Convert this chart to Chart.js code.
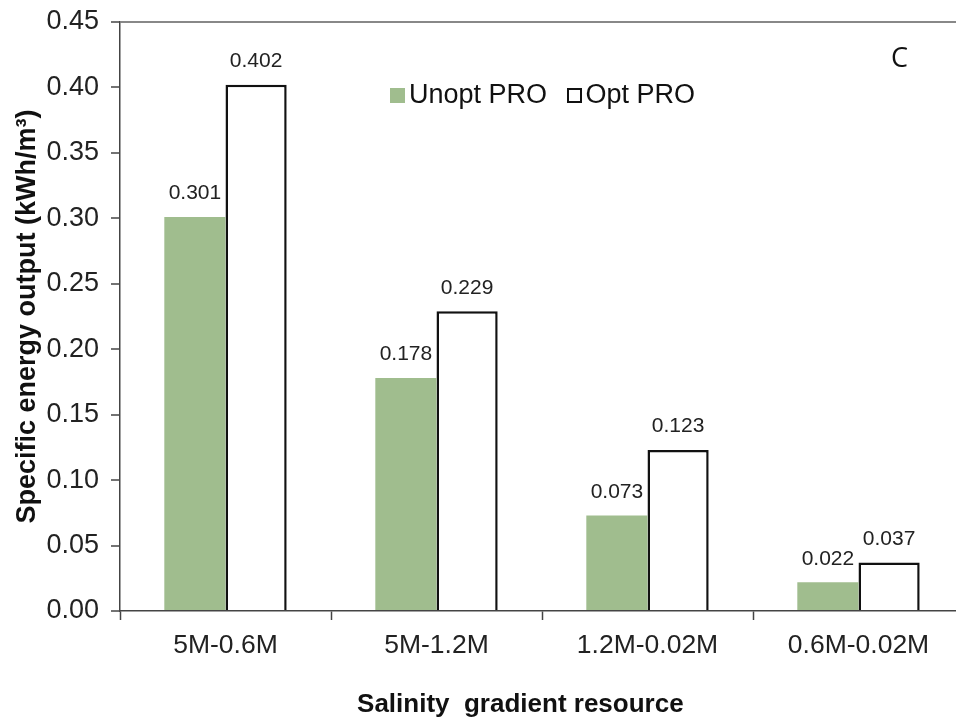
<!DOCTYPE html>
<html lang="en">
<head>
  <meta charset="UTF-8">
  <title>Specific energy output</title>
  <script src="https://cdn.jsdelivr.net/npm/chart.js"></script>
  <style>
    html, body { margin: 0; padding: 0; background: #fff; overflow: hidden; }
    #wrap { position: relative; width: 956px; height: 718px; overflow: hidden; }
    #wrap canvas { position: absolute; left: 0; top: 0; }
    .legend { position: absolute; top: 79px; left: 390px; font: 27px "Liberation Sans", Arial, sans-serif; color: #111; white-space: nowrap; }
    .legend span.box { display: inline-block; width: 15px; height: 15px; vertical-align: 0px; margin-right: 4px; box-sizing: border-box; }
    .panel { position: absolute; left: 891px; top: 38px; font: 27px "Open Sans", sans-serif; color: #111; }
  </style>
</head>
<body>
  <div id="wrap">
    <canvas id="chart" width="966" height="718"></canvas>
    <div class="legend">
      <span class="box" style="background:#a0bd8e"></span>Unopt PRO
      <span class="box" style="border:2px solid #111;margin-left:12px"></span>Opt PRO
    </div>
    <div class="panel">C</div>
  </div>

  <script>
    const categories = ['5M-0.6M', '5M-1.2M', '1.2M-0.02M', '0.6M-0.02M'];
    const unoptPRO = [0.301, 0.178, 0.073, 0.022];
    const optPRO = [0.402, 0.229, 0.123, 0.037];
    const yTicks = [0, 0.05, 0.10, 0.15, 0.20, 0.25, 0.30, 0.35, 0.40, 0.45];

    const font = '"Liberation Sans", Arial, sans-serif';

    // value labels above each bar
    const barLabels = {
      id: 'barLabels',
      afterDatasetsDraw(chart) {
        const ctx = chart.ctx;
        ctx.save();
        ctx.font = '21px ' + font;
        ctx.fillStyle = '#222';
        ctx.textAlign = 'center';
        ctx.textBaseline = 'bottom';
        chart.data.datasets.forEach((ds, i) => {
          chart.getDatasetMeta(i).data.forEach((bar, j) => {
            ctx.fillText(ds.data[j].toFixed(3), bar.x, bar.y - 13);
          });
        });
        ctx.restore();
      }
    };

    new Chart(document.getElementById('chart'), {
      type: 'bar',
      data: {
        labels: categories,
        datasets: [{
          label: 'Unopt PRO',
          data: unoptPRO,
          backgroundColor: '#a0bd8e',
          borderWidth: 0
        }, {
          label: 'Opt PRO',
          data: optPRO,
          backgroundColor: '#ffffff',
          borderColor: '#111',
          borderWidth: 2.5
        }]
      },
      options: {
        responsive: false,
        animation: false,
        categoryPercentage: 0.58,
        barPercentage: 1,
        layout: { padding: { top: 22, right: 2, left: 0, bottom: 0 } },
        plugins: {
          legend: { display: false },
          tooltip: { enabled: false }
        },
        scales: {
          x: {
            afterFit: s => { s.height = 107; s.paddingLeft = 0; s.paddingRight = 0; },
            grid: { offset: true, drawOnChartArea: false, tickLength: 9, tickColor: '#444', tickWidth: 1.5 },
            border: { color: '#444', width: 1.5 },
            ticks: { color: '#222', font: { family: font, size: 26.5 }, padding: 10, maxRotation: 0 },
            title: {
              display: true,
              // trailing spaces nudge the centred title left, as in the original
              text: 'Salinity  gradient resource      ',
              color: '#111',
              font: { family: font, size: 26, weight: 'bold' },
              padding: { top: 0, bottom: -2 }
            }
          },
          y: {
            min: 0,
            max: 0.45,
            afterFit: s => { s.width = 120; s.paddingTop = 0; s.paddingBottom = 0; },
            afterBuildTicks: s => { s.ticks = yTicks.map(v => ({ value: v })); },
            grid: {
              drawOnChartArea: true,
              color: c => (c.tick && c.tick.value === 0.45) ? '#888' : 'rgba(0,0,0,0)',
              lineWidth: 2,
              tickLength: 9,
              tickColor: '#444',
              tickWidth: 1.5
            },
            border: { color: '#444', width: 1.5 },
            ticks: {
              color: '#222',
              font: { family: font, size: 27 },
              padding: 12,
              callback: v => v.toFixed(2)
            },
            title: {
              display: true,
              text: 'Specific energy output (kWh/m³)',
              color: '#111',
              font: { family: font, size: 27, weight: 'bold' },
              padding: { top: 11, bottom: 0 }
            }
          }
        }
      },
      plugins: [barLabels]
    });
  </script>
</body>
</html>
